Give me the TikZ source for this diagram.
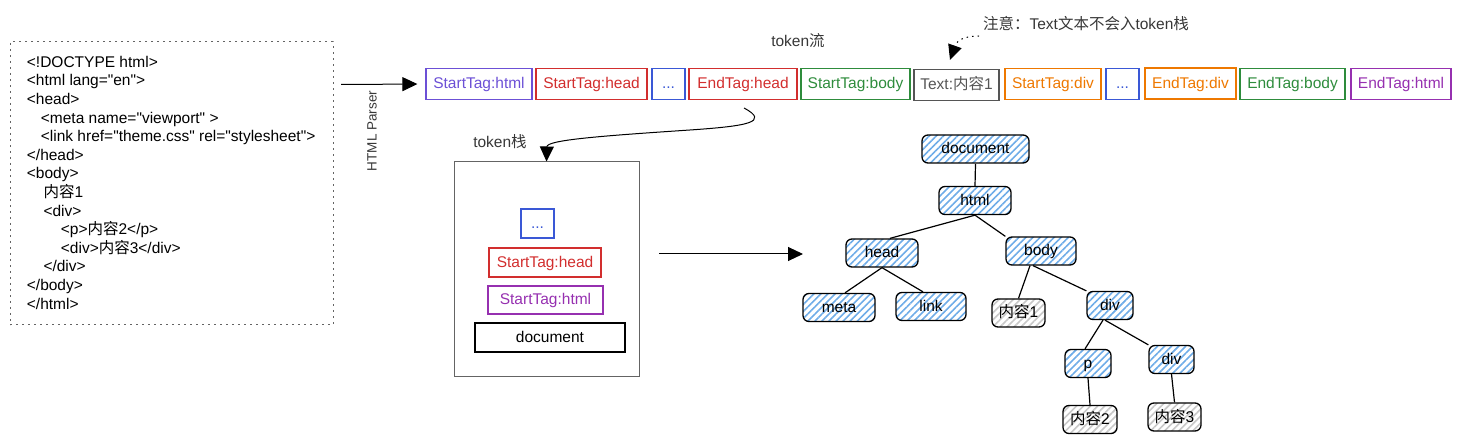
\documentclass[tikz,border=0pt]{standalone}
\usepackage{fontspec}
\newfontfamily\sansf{Liberation Sans}
\newfontfamily\cjk{Noto Sans CJK SC}
\newcommand{\zh}[1]{{\cjk #1}}
\usetikzlibrary{arrows.meta,patterns.meta,calc}
\definecolor{cpurple}{RGB}{108,80,214}
\definecolor{cred}{RGB}{210,46,46}
\definecolor{cblue}{RGB}{58,88,214}
\definecolor{cgreen}{RGB}{46,140,60}
\definecolor{cgray}{RGB}{85,85,85}
\definecolor{corange}{RGB}{238,120,0}
\definecolor{cmagenta}{RGB}{150,48,176}
\definecolor{labelgray}{RGB}{55,55,55}
\definecolor{boxgray}{RGB}{100,100,100}
\definecolor{hatchblue}{RGB}{110,172,232}
\definecolor{hatchgray}{RGB}{200,200,200}
\begin{document}
\begin{tikzpicture}[x=1pt,y=-1pt,
  basefont/.style={font=\sansf\fontsize{15.5}{18.6}\selectfont},
  codeline/.style={basefont, anchor=base west, inner sep=0pt},
  tok/.style={draw, line width=1.2pt, minimum height=31pt, inner sep=0pt, basefont, text height=12pt, text depth=2pt},
  lbl/.style={basefont, text=labelgray, inner sep=0pt},
  arr/.style={line width=1pt, -{Triangle[length=15pt,width=14pt]}},
  treenode/.style={draw=black, line width=1.3pt, rounded corners=6pt, minimum height=28pt, inner sep=0pt, basefont,
    text height=12pt, text depth=2pt,
    pattern={Lines[angle=45,distance=5pt,line width=1.6pt]}, pattern color=hatchblue},
  textnode/.style={treenode, pattern color=hatchgray},
  edge/.style={line width=1.2pt, black}
]
\useasboundingbox (0,0) rectangle (1461,443);

% code box
\node[draw=boxgray, line width=1pt, dash pattern=on 2pt off 4pt, minimum width=323pt, minimum height=283pt, inner sep=0pt] (code) at (171.5,183.5) {};
\node[codeline] (l1) at (26.7,67.3) {<!DOCTYPE html>};
\node[codeline] (l2) at (26.7,85.9) {<html lang="en">};
\node[codeline] (l3) at (26.7,104.5) {<head>};
\node[codeline] (l4) at (40.7,123.1) {<meta name="viewport" >};
\node[codeline] (l5) at (40.7,141.7) {<link href="theme.css" rel="stylesheet">};
\node[codeline] (l6) at (26.7,160.3) {</head>};
\node[codeline] (l7) at (26.7,178.9) {<body>};
\node[codeline] (l8) at (43.3,197.5) {\zh{内容}1};
\node[codeline] (l9) at (43.3,216.1) {<div>};
\node[codeline] (l10) at (60.7,234.7) {<p>\zh{内容}2</p>};
\node[codeline] (l11) at (60.7,253.3) {<div>\zh{内容}3</div>};
\node[codeline] (l12) at (43.3,271.9) {</div>};
\node[codeline] (l13) at (26.7,290.5) {</body>};
\node[codeline] (l14) at (26.7,309.1) {</html>};

% parser arrow
\coordinate (pa) at (341,84.5);
\node[lbl, rotate=90, font=\sansf\fontsize{13.5}{15}\selectfont] (parser) at (372,131) {HTML Parser};

% token stream
\node[tok, draw=cpurple, text=cpurple, minimum width=106pt] (t1) at (479,84) {StartTag:html};
\node[tok, draw=cred, text=cred, minimum width=111pt] (t2) at (591.5,84) {StartTag:head};
\node[tok, draw=cblue, text=cblue, minimum width=33pt] (t3) at (668.5,84) {...};
\node[tok, draw=cred, text=cred, minimum width=108pt] (t4) at (743,84) {EndTag:head};
\node[tok, draw=cgreen, text=cgreen, minimum width=109pt] (t5) at (855.5,84) {StartTag:body};
\node[tok, draw=cgray, text=cgray, minimum width=85pt] (t6) at (956.5,85) {Text:\zh{内容}1};
\node[tok, draw=corange, text=corange, minimum width=96pt] (t7) at (1053,84) {StartTag:div};
\node[tok, draw=cblue, text=cblue, minimum width=33pt] (t8) at (1122.5,84) {...};
\node[tok, draw=corange, text=corange, minimum width=91pt] (t9) at (1190.5,83.5) {EndTag:div};
\node[tok, draw=cgreen, text=cgreen, minimum width=105pt] (t10) at (1292.5,84) {EndTag:body};
\node[tok, draw=cmagenta, text=cmagenta, minimum width=100pt] (t11) at (1401,84) {EndTag:html};

\draw[arr] (pa) -- (t1.west) [shorten >=8pt];

\node[lbl] (flowlbl) at (798,41) {token\zh{流}};
\node[lbl] (note) at (1086,24) {\zh{注意：}Text\zh{文本不会入}token\zh{栈}};
\coordinate (ns) at (979,36);
\coordinate (ne) at (950,60);
\draw[line width=1pt, dash pattern=on 1.5pt off 4pt, -{Triangle[length=15pt,width=14pt]}] (ns) .. controls (965,36) and (957,40) .. (ne);

% token stack
\node[lbl] (stacklbl) at (500,142) {token\zh{栈}};
\node[draw=boxgray, line width=1pt, minimum width=185pt, minimum height=214pt, inner sep=0pt] (stack) at (546.5,269) {};
\node[tok, draw=cblue, text=cblue, minimum width=33pt, minimum height=29pt] (s1) at (537.5,223.5) {...};
\node[tok, draw=cred, text=cred, minimum width=112pt, minimum height=29pt] (s2) at (545,262.5) {StartTag:head};
\node[tok, draw=cmagenta, text=cmagenta, minimum width=115pt, minimum height=28pt] (s3) at (545.5,300) {StartTag:html};
\node[tok, draw=black, text=black, line width=1.5pt, minimum width=150pt, minimum height=29pt] (s4) at (550,337.5) {document};

\coordinate (cs) at (744,108);
\draw[arr] (cs) .. controls (770,122) and (748,126) .. (690,130) .. controls (600,136) and (547,140) .. (stack.north);

% arrow to tree
\coordinate (ta) at (659,254);
\coordinate (tb) at (803,254);
\draw[arr] (ta) -- (tb);

% DOM tree
\node[treenode, minimum width=107pt] (doc) at (975.5,149) {document};
\node[treenode, minimum width=72pt] (html) at (975,200.5) {html};
\node[treenode, minimum width=72pt] (head) at (882,253) {head};
\node[treenode, minimum width=70pt] (body) at (1041,251) {body};
\node[treenode, minimum width=72pt] (meta) at (839,307.5) {meta};
\node[treenode, minimum width=70pt] (link) at (931,306.5) {link};
\node[textnode, minimum width=53pt] (c1) at (1018.5,313) {\zh{内容}1};
\node[treenode, minimum width=46pt] (div) at (1110,305.5) {div};
\node[treenode, minimum width=46pt] (p) at (1088,363.5) {p};
\node[treenode, minimum width=45pt] (div2) at (1171.5,359.5) {div};
\node[textnode, minimum width=54pt] (c2) at (1090,419.5) {\zh{内容}2};
\node[textnode, minimum width=53pt] (c3) at (1174.5,417) {\zh{内容}3};

\draw[edge] (doc.south) -- (html.north);
\draw[edge] (html.south) -- ([xshift=8pt]head.north);
\draw[edge] (html.south) -- (body.north west);
\draw[edge] (head.south) -- ([xshift=6pt]meta.north);
\draw[edge] (head.south) -- ([xshift=-8pt]link.north);
\draw[edge] ([xshift=-11pt]body.south) -- (c1.north);
\draw[edge] ([xshift=-8pt]body.south) -- (div.north west);
\draw[edge] ([xshift=-7pt]div.south) -- ([xshift=-3pt]p.north);
\draw[edge] ([xshift=-5pt]div.south) -- (div2.north west);
\draw[edge] (p.south) -- (c2.north);
\draw[edge] (div2.south) -- (c3.north);
\end{tikzpicture}
\end{document}
